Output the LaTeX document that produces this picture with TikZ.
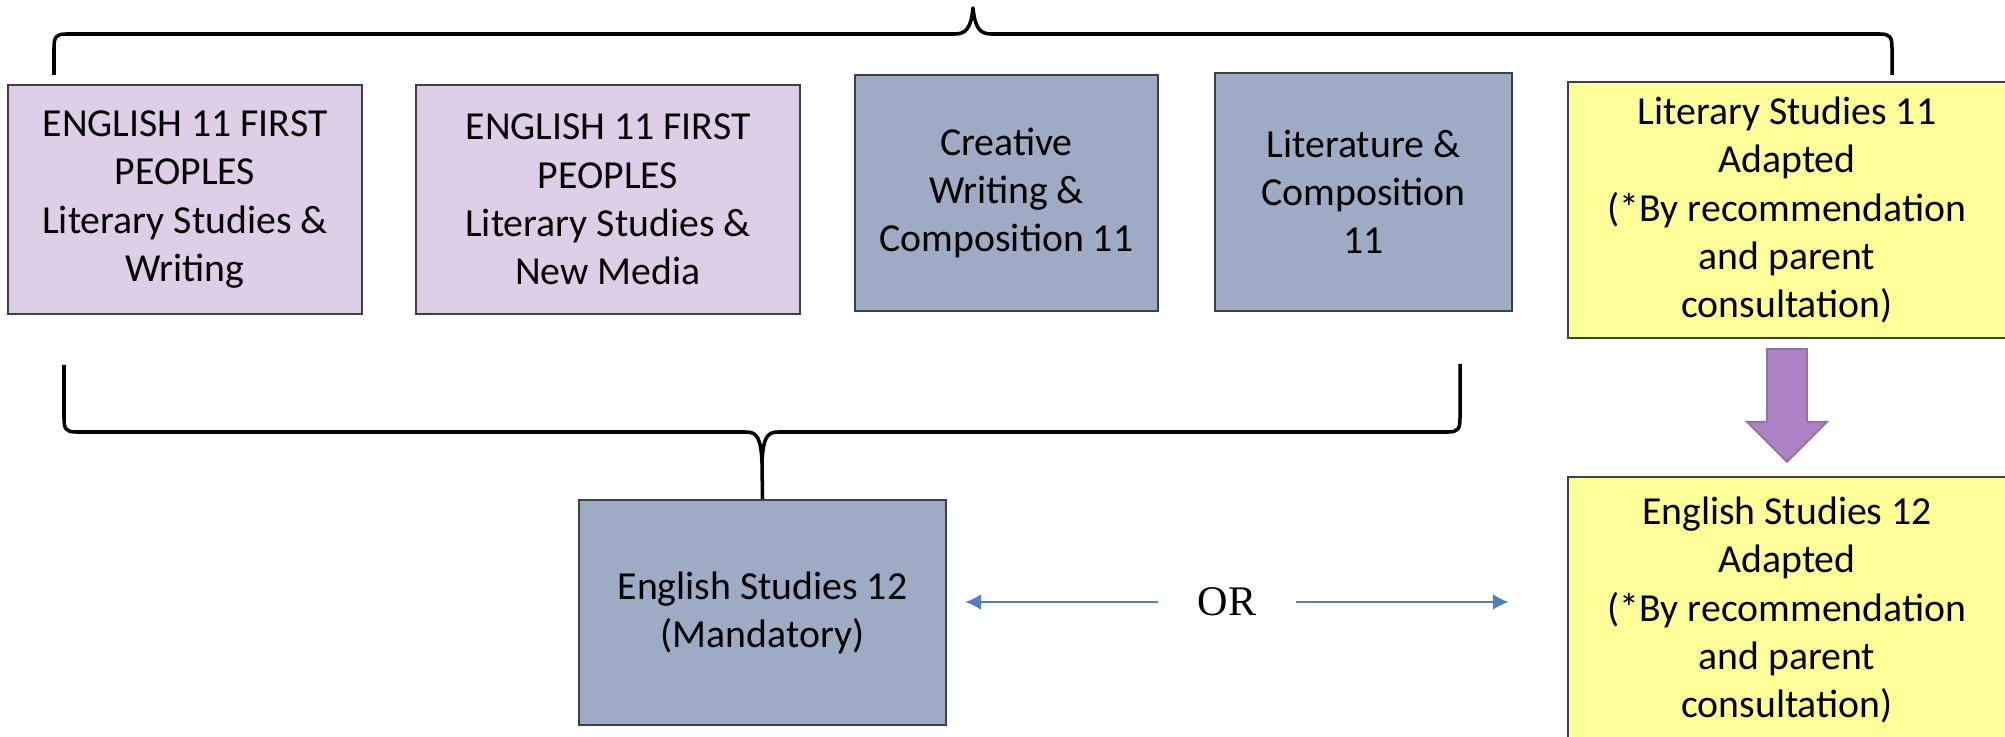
\documentclass[tikz,border=0pt]{standalone}
\usepackage{fontspec}
\setmainfont{Carlito}
\newfontfamily\orfont{Liberation Serif}
\usetikzlibrary{arrows.meta,calc}
\definecolor{lilac}{RGB}{223,206,232}
\definecolor{slate}{RGB}{157,171,196}
\definecolor{paleyellow}{RGB}{255,255,153}
\definecolor{violetarrow}{RGB}{172,132,198}
\definecolor{linkblue}{RGB}{79,129,189}

\begin{document}
\begin{tikzpicture}[x=0.01cm,y=-0.01cm,
	course/.style={draw=black!75,line width=0.6pt,align=center,inner sep=0pt,font=\fontsize{11.3}{13.7}\selectfont},
	brace/.style={line width=1pt,line join=round},
	link/.style={linkblue,line width=0.65pt,-{Latex[length=4.5pt,width=4.5pt]}},
	blockarrow/.style={fill=violetarrow,draw=violetarrow!85!black,line width=0.5pt}]
	\useasboundingbox (0,0) rectangle (2005,737);
	% grade 11 courses
	\node[course,fill=lilac,minimum width=3.54cm,minimum height=2.29cm] (fpwrite) at (185,199.5) {ENGLISH 11 FIRST\\PEOPLES\\Literary Studies \&\\Writing};
	\node[course,fill=lilac,minimum width=3.84cm,minimum height=2.29cm] (fpmedia) at (608,199.5) {ENGLISH 11 FIRST\\PEOPLES\\Literary Studies \&\\New Media};
	\node[course,fill=slate,minimum width=3.03cm,minimum height=2.36cm] (creative) at (1006.5,193) {Creative\\Writing \&\\Composition 11};
	\node[course,fill=slate,minimum width=2.97cm,minimum height=2.38cm] (litcomp) at (1363.5,192) {Literature \&\\Composition\\11};
	\node[course,fill=paleyellow,minimum width=4.38cm,minimum height=2.56cm] (adl11) at (1787,210) {Literary Studies 11\\Adapted\\(*By recommendation\\and parent\\consultation)};
	% grade 12 courses
	\node[course,fill=slate,minimum width=3.67cm,minimum height=2.25cm] (mand) at (762.5,612.5) {English Studies 12\\(Mandatory)};
	\node[course,fill=paleyellow,minimum width=4.38cm,minimum height=2.66cm] (adl12) at (1787,610) {English Studies 12\\Adapted\\(*By recommendation\\and parent\\consultation)};
	% braces
	\draw[brace] (54,75) -- (54,48) .. controls (54,37) and (56,34) .. (66,34) -- (955,34) .. controls (966,34) and (971,28) .. (973,8) .. controls (975,28) and (980,34) .. (991,34) -- (1880,34) .. controls (1890,34) and (1892,37) .. (1892,48) -- (1892,75);
	\draw[brace] (64,365) -- (64,418) .. controls (64,429) and (66,432) .. (76,432) -- (746,432) .. controls (757,432) and (761,438) .. (762,463) -- (mand.north);
	\draw[brace] (1460,364) -- (1460,418) .. controls (1460,429) and (1458,432) .. (1448,432) -- (778,432) .. controls (767,432) and (763,438) .. (762,463);
	% arrows
	\path (adl11.south) ++(0,10) coordinate (ptop) (adl12.north) ++(0,-14) coordinate (ptip);
	\draw[blockarrow] ($(ptop)+(-20,0)$) -- ($(ptop)+(20,0)$) -- ($(ptip)+(20,-40)$) -- ($(ptip)+(40,-40)$) -- (ptip) -- ($(ptip)+(-40,-40)$) -- ($(ptip)+(-20,-40)$) -- cycle;
	\node[font=\orfont\fontsize{12}{13}\selectfont,inner xsep=11pt,inner ysep=0pt] (orlbl) at (1227,602) {OR};
	\draw[link,shorten >=0.18cm] (orlbl.west) -- (orlbl.west -| mand.east);
	\draw[link,shorten >=0.58cm] (orlbl.east) -- (orlbl.east -| adl12.west);
\end{tikzpicture}
\end{document}
